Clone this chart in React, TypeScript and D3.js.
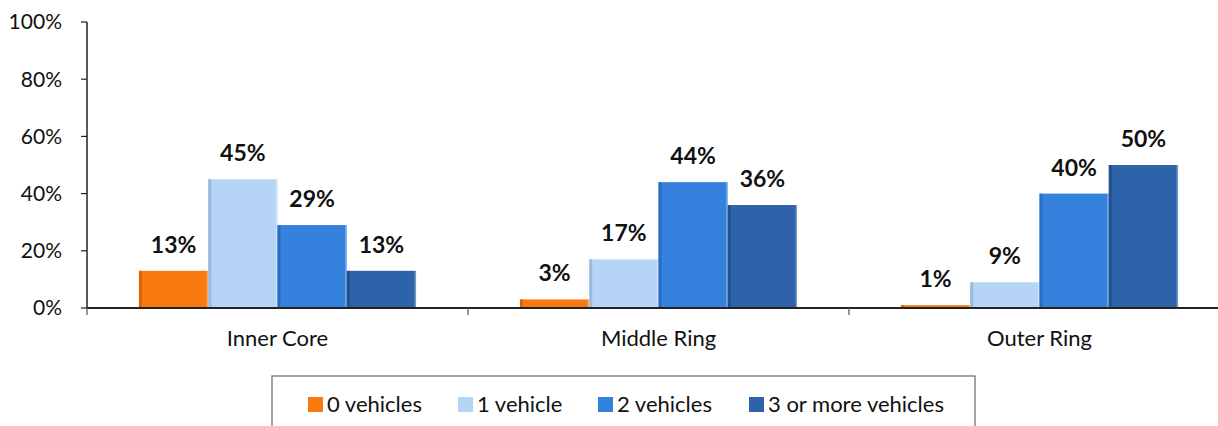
import React from "react";
import * as d3 from "d3";

const categories = ["Inner Core", "Middle Ring", "Outer Ring"];
const seriesNames = ["0 vehicles", "1 vehicle", "2 vehicles", "3 or more vehicles"];
const vehicles0 = [13, 3, 1];
const vehicles1 = [45, 17, 9];
const vehicles2 = [29, 44, 40];
const vehicles3 = [13, 36, 50];
const yTicks = [0, 20, 40, 60, 80, 100];
const colors = ["#FA7A12", "#B5D4F6", "#3582DE", "#2C63A9"];
const edgeColors = ["#C85A08", "#8FAFD6", "#2563B8", "#1D4A84"];

const seriesValues = [vehicles0, vehicles1, vehicles2, vehicles3];

const W = 1218;
const H = 426;
const FONT = "Lato, 'Open Sans', sans-serif";

export default function App() {
  const x0 = 87;
  const catW = 381;
  const x = d3.scaleBand<string>().domain(categories).range([x0, x0 + catW * categories.length]).paddingInner(0).paddingOuter(0);
  const inner = d3.scaleBand<string>().domain(seriesNames).range([0, x.bandwidth()]).paddingInner(0).paddingOuter(0.75);
  const y = d3.scaleLinear().domain([0, 100]).range([308, 22]);

  const legendSquares = [308, 458, 598, 749];

  return (
    <svg width={W} height={H} style={{ position: "absolute", left: 0, top: 0, background: "#fff" }} fontFamily={FONT}>
      {categories.map((c, ci) => (
        <g key={c}>
          {seriesNames.map((s, si) => {
            const v = seriesValues[si][ci];
            const bx = (x(c) as number) + (inner(s) as number);
            const bw = inner.bandwidth();
            const by = y(v);
            const bh = y(0) - y(v);
            return (
              <g key={s}>
                <rect x={bx} y={by} width={bw} height={bh} fill={colors[si]} />
                <rect x={bx} y={by} width={3} height={bh} fill={edgeColors[si]} opacity={0.7} />
                <rect x={bx + bw - 1.5} y={by} width={1.5} height={bh} fill="#fff" opacity={0.35} />
                <text x={bx + bw / 2} y={by - 18} textAnchor="middle" fontSize={23} fontWeight="bold" fill="#111">
                  {v}%
                </text>
              </g>
            );
          })}
        </g>
      ))}
      <line x1={x0} x2={x0} y1={y(100)} y2={y(0)} stroke="#222" strokeWidth={1.5} />
      {yTicks.map((t) => (
        <g key={t}>
          <line x1={x0 - 6} x2={x0} y1={y(t)} y2={y(t)} stroke="#222" strokeWidth={1.2} />
          <text x={62} y={y(t)} dy="0.35em" textAnchor="end" fontSize={21} fill="#111">
            {t}%
          </text>
        </g>
      ))}
      <line x1={x0} x2={W} y1={y(0)} y2={y(0)} stroke="#222" strokeWidth={2} />
      {categories.map((c) => (
        <g key={c}>
          <line x1={x(c) as number} x2={x(c) as number} y1={y(0)} y2={y(0) + 7} stroke="#555" strokeWidth={1.2} />
          <text x={(x(c) as number) + x.bandwidth() / 2} y={338} dy="0.35em" textAnchor="middle" fontSize={22} fill="#111">
            {c}
          </text>
        </g>
      ))}
      <line x1={x0 + catW * 3} x2={x0 + catW * 3} y1={y(0)} y2={y(0) + 7} stroke="#555" strokeWidth={1.2} />
      <rect x={272} y={376} width={703} height={80} fill="#fff" stroke="#666" strokeWidth={1.2} />
      {seriesNames.map((s, i) => (
        <g key={s}>
          <rect x={legendSquares[i]} y={397} width={15} height={15} fill={colors[i]} />
          <text x={legendSquares[i] + 19} y={404} dy="0.35em" fontSize={22} fill="#111">
            {s}
          </text>
        </g>
      ))}
    </svg>
  );
}
